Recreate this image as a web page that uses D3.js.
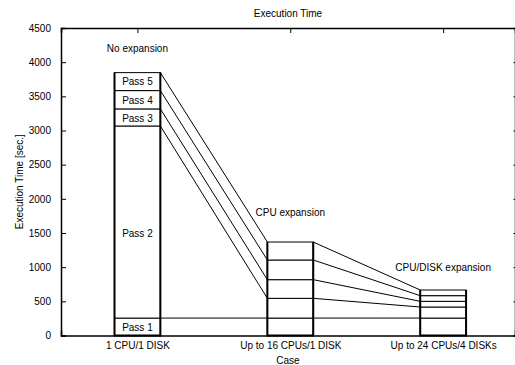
<!DOCTYPE html>
<html>
<head>
<meta charset="utf-8">
<script src="https://cdn.jsdelivr.net/npm/d3@7/dist/d3.min.js"></script>
<style>
  body { margin: 0; background: #fff; }
  text { font-family: "Liberation Sans", Arial, sans-serif; font-size: 10px; fill: #000; }
</style>
</head>
<body>
<div id="main"></div>
<script>
const ctx = {
    CHART_WIDTH: 515,
    CHART_HEIGHT: 365
};
const margin = {top: 28, right: 0, bottom: 29.5, left: 61};

// data (seconds per pass, stacked)
const cases = ["1 CPU/1 DISK", "Up to 16 CPUs/1 DISK", "Up to 24 CPUs/4 DISKs"];
const caseNotes = ["No expansion", "CPU expansion", "CPU/DISK expansion"];
const noteValues = [4200, 1800, 1000];
const passes = ["Pass 1", "Pass 2", "Pass 3", "Pass 4", "Pass 5"];
const pass1 = [255, 255, 255];
const pass2 = [2811, 289, 162];
const pass3 = [250, 273, 83];
const pass4 = [268, 288, 83];
const pass5 = [263, 263, 83];
const passLabelValues = [110, 1500, 3170, 3435, 3715];
const yTicks = [0, 500, 1000, 1500, 2000, 2500, 3000, 3500, 4000, 4500];

const width = ctx.CHART_WIDTH - margin.left - margin.right;
const height = ctx.CHART_HEIGHT - margin.top - margin.bottom;
const BAR_W = 0.3;

function createViz() {
    const svg = d3.select("#main").append("svg")
        .attr("width", ctx.CHART_WIDTH)
        .attr("height", ctx.CHART_HEIGHT);
    const g = svg.append("g").attr("transform", `translate(${margin.left},${margin.top})`);

    const x = d3.scaleLinear().domain([-0.5, 2.47]).range([0, width]);
    const y = d3.scaleLinear().domain([0, 4500]).range([height, 0]);

    // build stacked table
    const rows = cases.map((c, i) => ({
        i: i, p0: pass1[i], p1: pass2[i], p2: pass3[i], p3: pass4[i], p4: pass5[i]
    }));
    const stack = d3.stack().keys(["p0", "p1", "p2", "p3", "p4"])(rows);

    // axes (ticks inward, mirrored)
    g.append("g").attr("class", "ax")
        .call(d3.axisLeft(y).tickValues(yTicks).tickSize(-5).tickPadding(10).tickFormat(d3.format("d")));
    g.append("g").attr("class", "ax").attr("transform", `translate(${width},0)`)
        .call(d3.axisRight(y).tickValues(yTicks).tickSize(-1.5).tickFormat(""));
    g.append("g").attr("class", "ax").attr("transform", `translate(0,${height})`)
        .call(d3.axisBottom(x).tickValues([0, 1, 2]).tickSize(-5).tickPadding(6)
            .tickFormat(d => cases[d]));
    g.append("g").attr("class", "ax")
        .call(d3.axisTop(x).tickValues([0, 1, 2]).tickSize(-5).tickFormat(""));
    g.selectAll(".ax path").attr("stroke", "#000").attr("stroke-width", 1.5);
    g.selectAll(".ax line").attr("stroke", "#000").attr("stroke-width", 1);
    g.selectAll(".ax text").style("font-family", "'Liberation Sans', Arial, sans-serif").style("font-size", "10px");

    // connecting lines between segment tops
    stack.forEach((layer) => {
        for (let i = 0; i < cases.length - 1; i++) {
            g.append("line")
                .attr("x1", x(i + BAR_W / 2)).attr("y1", y(layer[i][1]))
                .attr("x2", x(i + 1 - BAR_W / 2)).attr("y2", y(layer[i + 1][1]))
                .attr("stroke", "#000").attr("stroke-width", 1);
        }
    });

    // segments
    stack.forEach((layer) => {
        g.selectAll(null).data(layer).enter().append("rect")
            .attr("x", (d, i) => x(i - BAR_W / 2))
            .attr("y", d => y(d[1]))
            .attr("width", x(BAR_W) - x(0))
            .attr("height", d => y(d[0]) - y(d[1]))
            .attr("fill", "#fff")
            .attr("stroke", "#000")
            .attr("stroke-width", 1);
    });

    // thick bar outlines
    cases.forEach((c, i) => {
        const top = y(stack[stack.length - 1][i][1]);
        const xl = x(i - BAR_W / 2), xr = x(i + BAR_W / 2);
        g.append("path")
            .attr("d", `M${xl},${top}V${height}H${xr}V${top}`)
            .attr("fill", "none").attr("stroke", "#000").attr("stroke-width", 2);
    });

    // pass labels on first bar
    passes.forEach((p, k) => {
        g.append("text")
            .attr("x", x(0)).attr("y", y(passLabelValues[k]))
            .attr("text-anchor", "middle").attr("dy", "0.35em")
            .text(p);
    });

    // case notes
    caseNotes.forEach((n, i) => {
        g.append("text")
            .attr("x", x(i)).attr("y", y(noteValues[i]))
            .attr("text-anchor", "middle").attr("dy", "0.35em")
            .text(n);
    });

    // titles
    svg.append("text").attr("x", margin.left + width / 2).attr("y", 16.5)
        .attr("text-anchor", "middle").text("Execution Time");
    svg.append("text").attr("x", margin.left + width / 2).attr("y", 363.5)
        .attr("text-anchor", "middle").text("Case");
    svg.append("text")
        .attr("transform", `translate(19,${margin.top + height / 2}) rotate(-90)`)
        .attr("text-anchor", "middle").attr("dy", "0.35em")
        .text("Execution Time [sec.]");
}

createViz();
</script>
</body>
</html>
